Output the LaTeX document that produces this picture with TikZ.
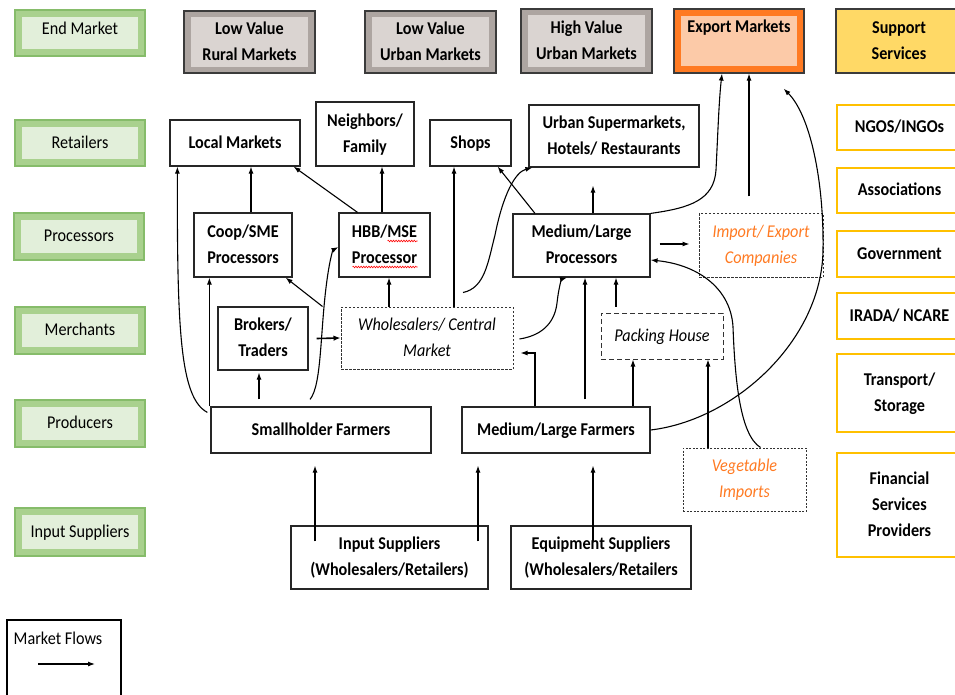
\documentclass[tikz,border=0pt]{standalone}
\usepackage{fontspec}
\setmainfont{Carlito}[FakeStretch=0.9]
\usetikzlibrary{arrows.meta,decorations.pathmorphing}
\definecolor{gborder}{HTML}{86BC6A}
\definecolor{gmid}{HTML}{A9D18E}
\definecolor{glight}{HTML}{E2EFDA}
\definecolor{tborder}{HTML}{3B3B3B}
\definecolor{tmid}{HTML}{ADA5A1}
\definecolor{tlight}{HTML}{DAD4D1}
\definecolor{orangeband}{HTML}{FF7A22}
\definecolor{peach}{HTML}{FCCAA8}
\definecolor{supfill}{HTML}{FFD966}
\definecolor{supborder}{HTML}{FFC000}
\definecolor{orangetext}{HTML}{FF7A22}
\newcommand\fsz{\fontsize{18}{26}\selectfont}
\newcommand\stackl[1]{\begin{tabular}{@{}c@{}}#1\end{tabular}}
\begin{document}
\begin{tikzpicture}[x=1pt,y=-1pt,
  bb/.style n args={4}{at={({(#1+#3)/2},{(#2+#4)/2})}, minimum width=#3pt-#1pt, minimum height=#4pt-#2pt},
  base/.style={inner sep=0pt, line width=1.2pt, anchor=center},
  box/.style={base, draw=black!85, fill=white, font=\bfseries\fsz},
  dbox/.style={base, draw=black!80, line width=1pt, dash pattern=on 2.5pt off 1.5pt, font=\itshape\fsz},
  level/.style={base, draw=gborder, line width=1.5pt, fill=gmid, font=\fsz,
    path picture={\fill[glight] ([shift={(7pt,-7pt)}]path picture bounding box.north west) rectangle ([shift={(-7pt,7pt)}]path picture bounding box.south east);}},
  market/.style={base, draw=tborder, line width=2pt, fill=tmid, font=\bfseries\fsz,
    path picture={\fill[tlight] ([shift={(7pt,-6pt)}]path picture bounding box.north west) rectangle ([shift={(-7pt,6pt)}]path picture bounding box.south east);}},
  exportbox/.style={base, draw=tborder, line width=1.2pt, fill=orangeband, font=\bfseries\fsz,
    path picture={\fill[peach] ([shift={(7pt,-7pt)}]path picture bounding box.north west) rectangle ([shift={(-7pt,7pt)}]path picture bounding box.south east);}},
  suphead/.style={base, draw=tborder, line width=1.5pt, fill=supfill, font=\bfseries\fsz},
  svc/.style={base, draw=supborder, line width=1.8pt, fill=white, font=\bfseries\fsz},
  arr/.style={-{Latex[length=7pt,width=5pt]}, line width=1.1pt},
  thickarr/.style={-{Latex[length=7pt,width=5.5pt]}, line width=1.6pt},
  squiggle/.style={red, line width=0.6pt, decorate, decoration={snake, amplitude=0.8pt, segment length=2.6pt}}
]
\useasboundingbox (0,0) rectangle (955,695);
\clip (0,0) rectangle (955,695);

% level labels
\node[level, bb={15}{10}{145}{56},
  label={[font=\fsz, anchor=center, yshift=-19pt]north:End Market}] (lvEnd) {};
\node[level, bb={15}{120}{145}{166}] (lvRet) {\stackl{Retailers}};
\node[level, bb={14}{213}{144}{260}] (lvPro) {\stackl{Processors}};
\node[level, bb={15}{307}{145}{354}] (lvMer) {\stackl{Merchants}};
\node[level, bb={15}{400}{145}{447}] (lvPrd) {\stackl{Producers}};
\node[level, bb={15}{508}{145}{556}] (lvInp) {\stackl{Input Suppliers}};

% end markets
\node[market, bb={184}{11}{315}{73}] (lvr) {\stackl{Low Value\\Rural Markets}};
\node[market, bb={365}{11}{496}{73}] (lvu) {\stackl{Low Value\\Urban Markets}};
\node[market, bb={521}{9}{652}{73}] (hvu) {\stackl{High Value\\Urban Markets}};
\node[exportbox, bb={674}{9}{804}{73},
  label={[font=\bfseries\fsz, anchor=center, yshift=-19pt]north:Export Markets}] (exp) {};
\node[suphead, bb={836}{9}{962}{73}] (sup) {\stackl{Support\\Services}};

% retailers
\node[box, bb={170}{120}{300}{166}] (lm) {\stackl{Local Markets}};
\node[box, bb={316}{102}{414}{166}] (nf) {\stackl{Neighbors/\\Family}};
\node[box, bb={430}{120}{511}{166}] (shops) {\stackl{Shops}};
\node[box, bb={529}{105}{699}{167}] (usm) {\stackl{Urban Supermarkets,\\Hotels/ Restaurants}};

% processors
\node[box, bb={194}{213}{292}{277}] (coop) {\stackl{Coop/SME\\Processors}};
\node[box, bb={339}{213}{430}{277}] (hbb) {\stackl{HBB/MSE\\Processor}};
\draw[squiggle] ([shift={(3,-4)}]hbb.center) -- ([shift={(33,-4)}]hbb.center);
\draw[squiggle] ([shift={(-32,22)}]hbb.center) -- ([shift={(33,22)}]hbb.center);
\node[box, bb={513}{214}{650}{277}] (mlp) {\stackl{Medium/Large\\Processors}};
\node[dbox, bb={699}{213}{823}{277}, text=orangetext] (iec) {\stackl{Import/ Export\\Companies}};

% merchants
\node[box, bb={218}{307}{308}{370}] (brk) {\stackl{Brokers/\\Traders}};
\node[dbox, bb={341}{307}{513}{369}] (whs) {\stackl{Wholesalers/ Central\\Market}};
\node[dbox, dash pattern=on 5pt off 3pt, bb={601}{313}{723}{359}] (ph) {\stackl{Packing House}};

% producers
\node[box, bb={211}{407}{431}{453}] (sf) {\stackl{Smallholder Farmers}};
\node[box, bb={462}{407}{650}{453}] (mlf) {\stackl{Medium/Large Farmers}};
\node[dbox, dash pattern=on 2pt off 1.5pt, bb={683}{448}{806}{511}, text=orangetext] (veg) {\stackl{Vegetable\\Imports}};

% input suppliers
\node[box, bb={291}{526}{488}{589}] (ins) {\stackl{Input Suppliers\\(Wholesalers/Retailers)}};
\node[box, bb={511}{526}{691}{589}] (eqs) {\stackl{Equipment Suppliers\\(Wholesalers/Retailers}};

% support services
\node[svc, bb={837}{105}{962}{150}] (ngo) {\stackl{NGOS/INGOs}};
\node[svc, bb={837}{168}{962}{213}] (ass) {\stackl{Associations}};
\node[svc, bb={837}{231}{962}{277}] (gov) {\stackl{Government}};
\node[svc, bb={837}{293}{962}{339}] (ira) {\stackl{IRADA/ NCARE}};
\node[svc, bb={837}{354}{962}{432}] (tra) {\stackl{Transport/\\Storage}};
\node[svc, bb={837}{453}{962}{557}] (fin) {\stackl{Financial\\Services\\Providers}};

% legend
\node[draw, line width=1.2pt, inner sep=0pt, bb={7}{620}{121}{720}] (legend) {};
\node[font=\fsz] (legendtxt) at (58,638) {Market Flows};
\coordinate (lgA) at (38,664);
\coordinate (lgB) at (95,664);
\draw[arr] (lgA) -- (lgB);

% flows
\draw[arr] ([xshift=-3pt,yshift=-6pt]sf.north west) .. controls (180,398) and (177,330) .. ([xshift=8pt]lm.south west);
\draw[arr] ([xshift=8pt]coop.north) -- ([xshift=16pt]lm.south);
\draw[arr] ([xshift=-27pt]hbb.north) -- ([xshift=-7pt]lm.south east);
\draw[arr] ([xshift=-2.5pt]hbb.north) -- ([xshift=17pt]nf.south);
\draw[arr] ([xshift=27pt]whs.north) -- ([xshift=-16.5pt]shops.south);
\draw[arr] ([xshift=-38pt]whs.north) -- ([xshift=4.5pt]hbb.south);
\draw[arr] ([xshift=-18pt]whs.north west) -- ([xshift=-7pt]coop.south east);
\draw[arr] ([xshift=-1pt]sf.north west) -- ([xshift=16pt]coop.south west);
\draw[arr] ([xshift=-62pt,yshift=7pt]sf.north) -- ([xshift=-4pt,yshift=-2pt]brk.south);
\draw[arr] ([xshift=-11pt,yshift=7pt]sf.north) .. controls (322,385) and (320,330) .. (327,280) .. controls (330,258) and (333,250) .. ([yshift=-2pt]hbb.west);
\draw[thickarr] ([xshift=8pt]brk.east) -- (whs.west);
\draw[arr] ([xshift=36pt,yshift=14pt]whs.north) .. controls (485,288) and (488,262) .. (495,235) .. controls (503,195) and (515,172) .. ([xshift=4pt]usm.south west);
\draw[arr] ([xshift=-46.5pt]mlp.north) -- ([xshift=-14pt]shops.south east);
\draw[arr] ([xshift=11.5pt]mlp.north) -- ([xshift=-21pt,yshift=-18pt]usm.south);
\draw[arr] (mlp.north east) .. controls (690,208) and (714,200) .. (716,170) .. controls (718,130) and (719,100) .. ([xshift=-17pt]exp.south);
\draw[arr] ([xshift=-12pt,yshift=16pt]iec.north) -- ([xshift=10pt]exp.south);
\draw[arr] ([xshift=9pt,yshift=1.5pt]mlp.east) -- ([xshift=-9pt,yshift=1pt]iec.west);
\draw[arr] (mlf.east) .. controls (735,420) and (822,340) .. (823,250) .. controls (824,180) and (810,115) .. ([xshift=-21pt,yshift=-15pt]exp.south east);
\draw[arr] ([xshift=16pt]veg.north) .. controls (740,435) and (735,380) .. (733,327) .. controls (731,290) and (700,265) .. ([yshift=-14.5pt]mlp.east);
\draw[arr] ([xshift=-36.5pt]veg.north) -- ([xshift=46pt]ph.south);
\draw[arr] ([xshift=77pt]mlf.north) -- ([xshift=-29pt]ph.south);
\draw[arr] ([xshift=-46pt,yshift=6pt]ph.north) -- ([xshift=34.5pt]mlp.south);
\draw[arr] ([xshift=29pt,yshift=7pt]mlf.north) -- ([xshift=3.5pt]mlp.south);
\draw[arr] ([xshift=-21pt]mlf.north) |- ([xshift=7pt,yshift=-15pt]whs.east);
\draw[arr] ([xshift=6pt,yshift=-1pt]whs.east) .. controls (545,335) and (555,320) .. (557,303) .. controls (559,285) and (562,279) .. ([xshift=-14.5pt]mlp.south);
\draw[arr] ([xshift=-74.5pt,yshift=-16pt]ins.north) -- ([xshift=-6pt,yshift=-12pt]sf.south);
\draw[arr] ([xshift=88.5pt,yshift=-16pt]ins.north) -- ([xshift=-78pt,yshift=-12pt]mlf.south);
\draw[arr] ([xshift=-8pt,yshift=-16pt]eqs.north) -- ([xshift=37pt,yshift=-12pt]mlf.south);
\end{tikzpicture}
\end{document}
